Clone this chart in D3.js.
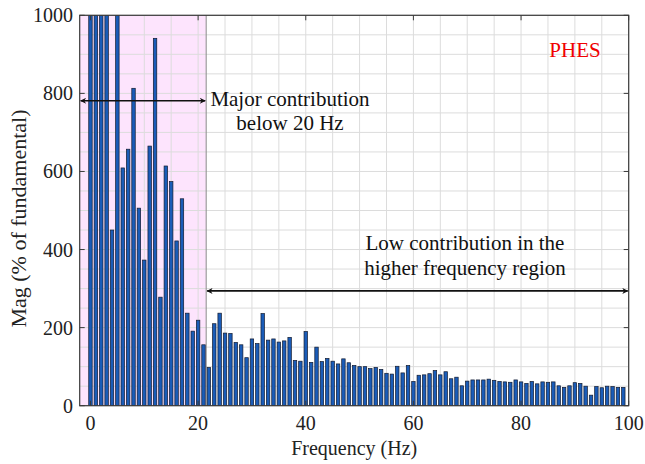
<!DOCTYPE html>
<html><head><meta charset="utf-8">
<script src="https://cdn.jsdelivr.net/npm/d3@7"></script>
<style>body{margin:0;background:#fff}svg{display:block}</style>
</head><body>
<svg id="c" width="645" height="464"></svg>
<script>
// Frequencies 0..99 Hz
const freqs = d3.range(0, 100);
// Magnitude (% of fundamental); bars at 0-3 and 5 Hz exceed the 1000 limit (clipped)
const mags = [1000,1000,1000,1000,450,1000,609,657,813,506,
  373,665,941,278,614,574,422,530,237,191,
  219,156,98,210,237,186,185,162,156,123,
  171,159,236,168,171,163,166,175,116,114,
  190,111,150,113,121,114,107,120,110,103,
  100,100,95,98,93,83,81,101,84,103,
  62,78,79,82,90,79,87,69,73,51,
  63,66,66,66,68,65,62,61,60,66,
  61,57,62,56,61,60,61,51,47,51,
  59,57,50,27,49,46,50,49,47,47];
const xTicks = [0,20,40,60,80,100];
const yTicks = [0,200,400,600,800,1000];
const xLabel = "Frequency (Hz)";
const yLabel = "Mag (% of fundamental)";
const tag = "PHES";
const noteMajor = ["Major contribution","below 20 Hz"];
const noteLow = ["Low contribution in the","higher frequency region"];
const regionEnd = 21.5;   // end of the shaded low-frequency band (Hz)
const arrowMajorY = 781;  // level of the upper arrow
const arrowLowY = 294;    // level of the lower arrow

const svg = d3.select("#c");
const L = 79.7, R = 628.7, T = 15.3, B = 405.7;
const x = d3.scaleLinear().domain([-2, 100]).range([L, R]);
const y = d3.scaleLinear().domain([0, 1000]).range([B, T]);
const FF = "Liberation Serif";

const defs = svg.append("defs");
defs.append("clipPath").attr("id","clip")
  .append("rect").attr("x",L).attr("y",T).attr("width",R-L).attr("height",B-T);
defs.append("marker").attr("id","ah").attr("viewBox","0 0 10 10").attr("refX",9).attr("refY",5)
  .attr("markerWidth",8).attr("markerHeight",6).attr("markerUnits","userSpaceOnUse").attr("orient","auto-start-reverse")
  .append("path").attr("d","M0,0 L10,5 L0,10 L3,5 Z").attr("fill","#111");

// shaded band
svg.append("rect").attr("x", x(-2)).attr("y", y(1000)).attr("width", x(regionEnd)-x(-2)).attr("height", y(0)-y(1000))
  .attr("fill","#fde4fd");

// grid
const g = svg.append("g").attr("stroke","#dcdcdc").attr("stroke-width",1);
d3.range(0, 101, 5).forEach(v => g.append("line").attr("x1",x(v)).attr("x2",x(v)).attr("y1",T).attr("y2",B));
d3.range(0, 1001, 50).forEach(v => g.append("line").attr("y1",y(v)).attr("y2",y(v)).attr("x1",L).attr("x2",R));

// band edge
svg.append("line").attr("x1",x(regionEnd)).attr("x2",x(regionEnd)).attr("y1",T).attr("y2",B)
  .attr("stroke","#8a8a8a").attr("stroke-width",1);

// bars
const bw = (x(1)-x(0))*0.64;
svg.append("g").attr("clip-path","url(#clip)").selectAll("rect").data(freqs).join("rect")
  .attr("x", d => x(d)-bw/2).attr("width", bw)
  .attr("y", (d,i) => y(Math.min(mags[i],1010))).attr("height", (d,i) => y(0)-y(Math.min(mags[i],1010)))
  .attr("fill","#1a5cb8").attr("stroke","#121a2e").attr("stroke-width",0.7);

// axes box
svg.append("rect").attr("x",L).attr("y",T).attr("width",R-L).attr("height",B-T)
  .attr("fill","none").attr("stroke","#3a3a3a").attr("stroke-width",1.2);

// ticks (inward, all four sides)
const tk = svg.append("g").attr("stroke","#3a3a3a").attr("stroke-width",1);
xTicks.forEach(v => {
  tk.append("line").attr("x1",x(v)).attr("x2",x(v)).attr("y1",B).attr("y2",B-5);
  tk.append("line").attr("x1",x(v)).attr("x2",x(v)).attr("y1",T).attr("y2",T+5);
});
yTicks.forEach(v => {
  tk.append("line").attr("y1",y(v)).attr("y2",y(v)).attr("x1",L).attr("x2",L+5);
  tk.append("line").attr("y1",y(v)).attr("y2",y(v)).attr("x1",R).attr("x2",R-5);
});

// tick labels
svg.append("g").selectAll("text").data(xTicks).join("text")
  .attr("x", d => x(d)).attr("y", 430).attr("text-anchor","middle")
  .style("font-family",FF).attr("font-size",20).attr("fill","#222").text(d => d);
svg.append("g").selectAll("text").data(yTicks).join("text")
  .attr("x", 73).attr("y", d => y(d)+7).attr("text-anchor","end")
  .style("font-family",FF).attr("font-size",20).attr("fill","#222").text(d => d);

// axis labels
svg.append("text").attr("x",(L+R)/2).attr("y",455).attr("text-anchor","middle")
  .style("font-family",FF).attr("font-size",20).attr("fill","#222").text(xLabel);
svg.append("text").attr("transform",`translate(26,${(T+B)/2+8}) rotate(-90)`).attr("text-anchor","middle")
  .style("font-family",FF).attr("font-size",22).attr("fill","#222").text(yLabel);

// arrows
svg.append("line").attr("x1",L+1).attr("x2",x(regionEnd)-1).attr("y1",y(arrowMajorY)).attr("y2",y(arrowMajorY))
  .attr("stroke","#111").attr("stroke-width",1.6).attr("marker-start","url(#ah)").attr("marker-end","url(#ah)");
svg.append("line").attr("x1",x(regionEnd)+1).attr("x2",R-1).attr("y1",y(arrowLowY)).attr("y2",y(arrowLowY))
  .attr("stroke","#111").attr("stroke-width",1.6).attr("marker-start","url(#ah)").attr("marker-end","url(#ah)");

// annotations
noteMajor.forEach((t,i) => svg.append("text").attr("x",290).attr("y",106+i*24).attr("text-anchor","middle")
  .style("font-family",FF).attr("font-size",21).attr("fill","#111").text(t));
noteLow.forEach((t,i) => svg.append("text").attr("x",465).attr("y",250+i*25).attr("text-anchor","middle")
  .style("font-family",FF).attr("font-size",21).attr("fill","#111").text(t));
svg.append("text").attr("x",575).attr("y",57).attr("text-anchor","middle")
  .style("font-family",FF).attr("font-size",21).attr("fill","#f00000").text(tag);
</script>
</body></html>
